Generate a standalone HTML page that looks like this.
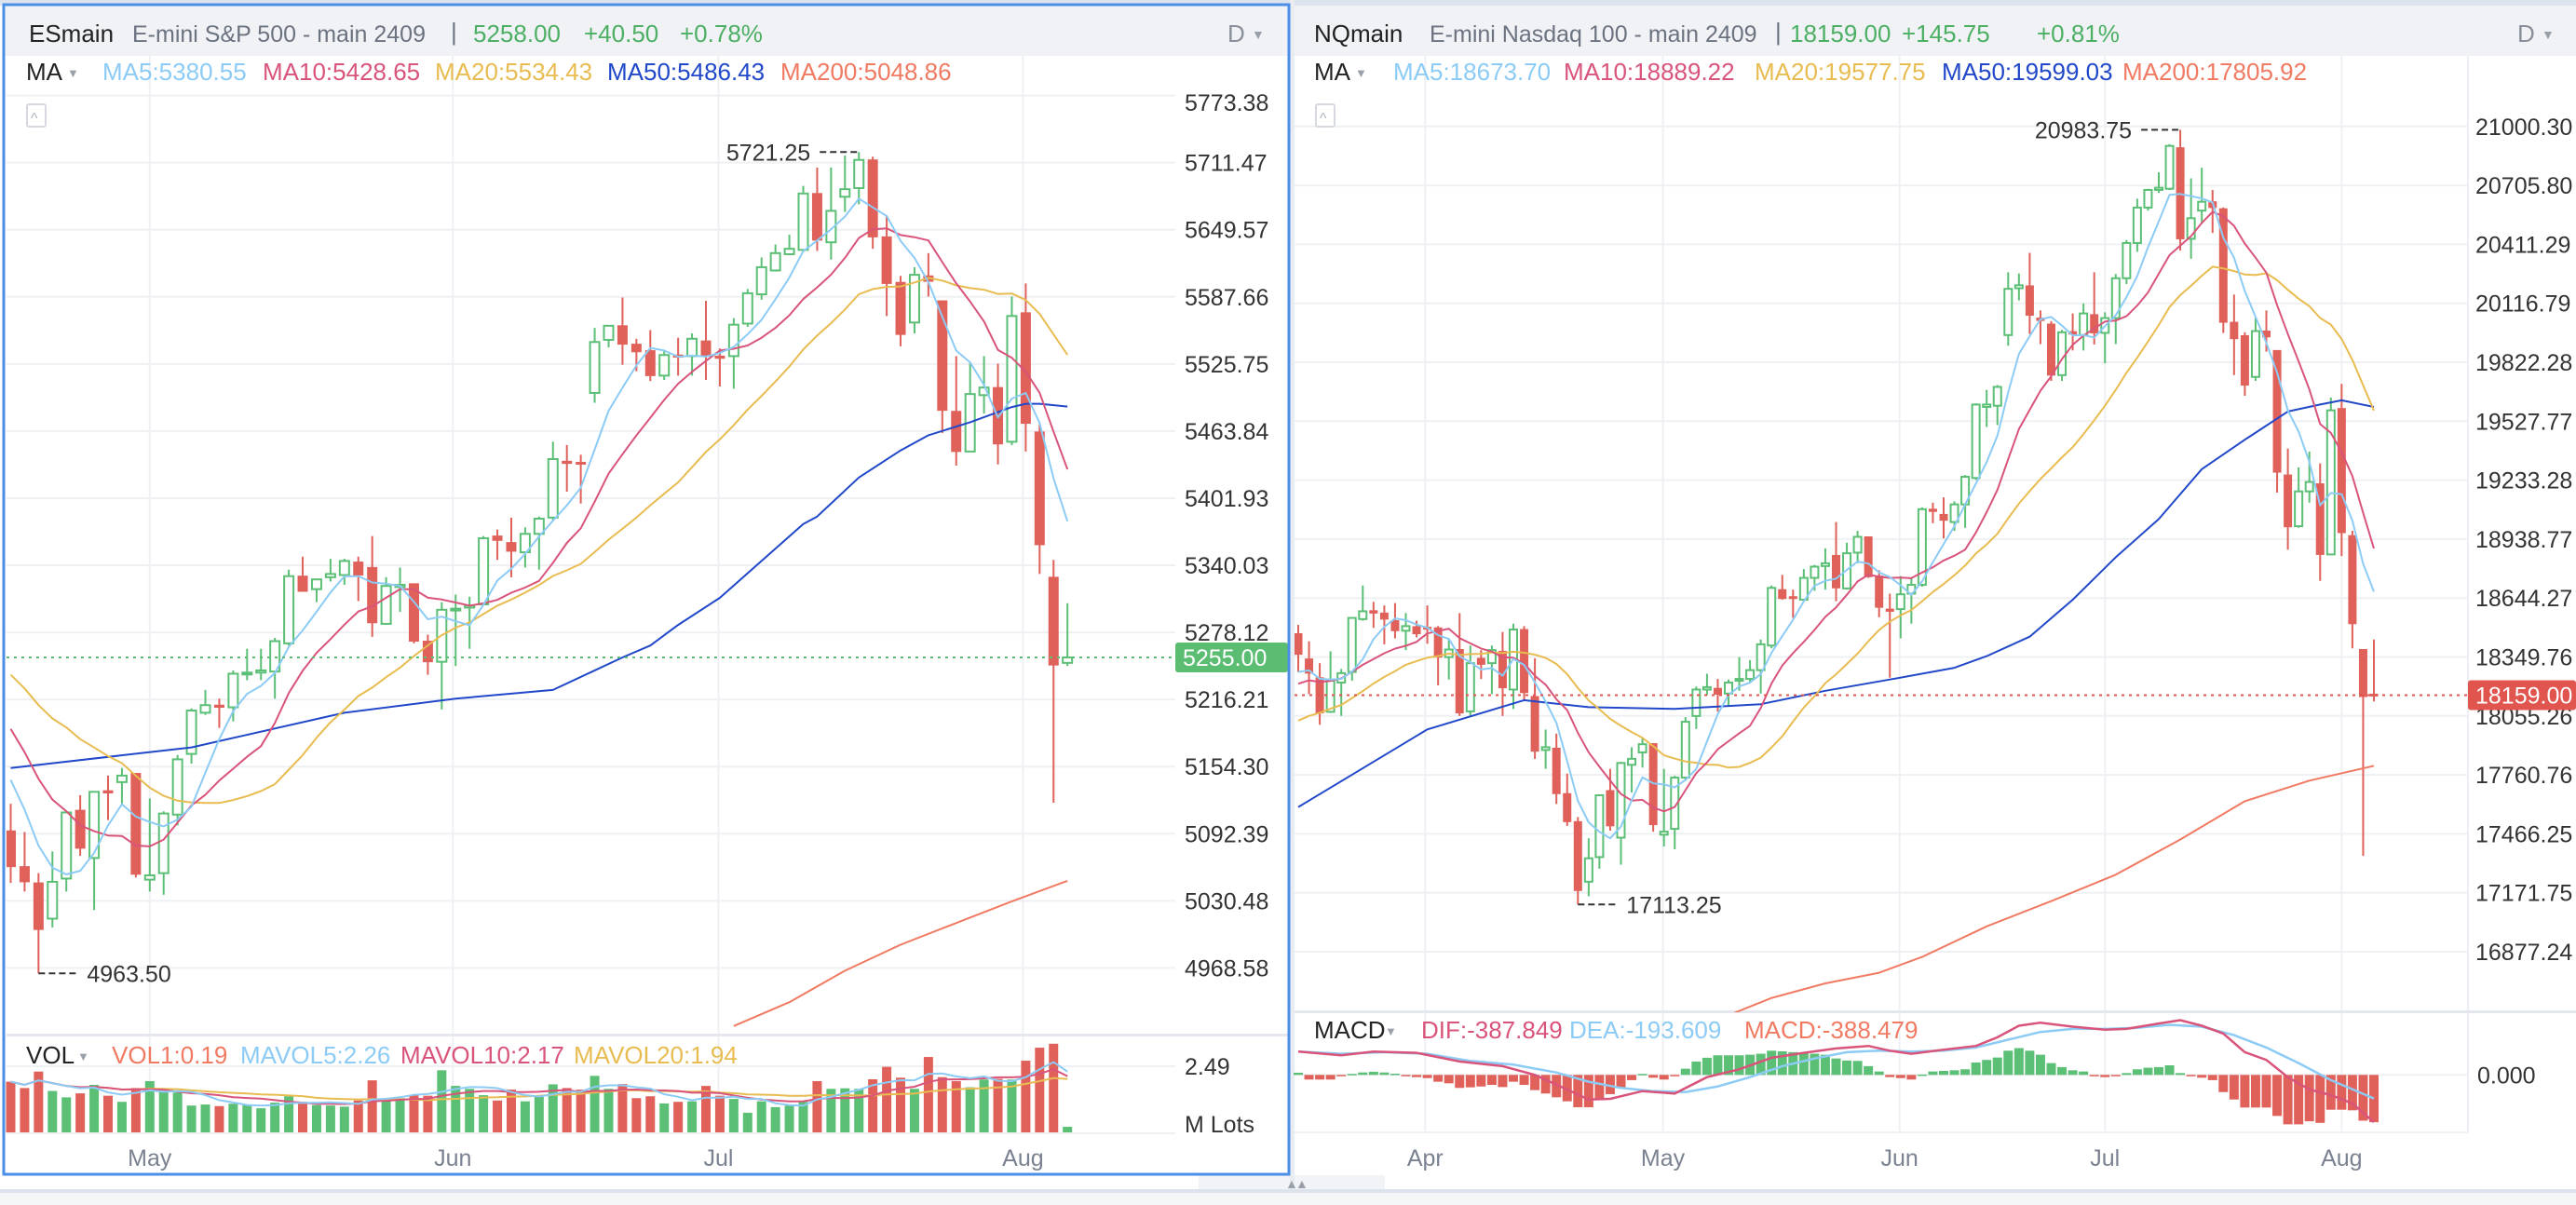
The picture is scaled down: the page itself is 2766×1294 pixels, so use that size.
<!DOCTYPE html>
<html><head><meta charset="utf-8"><title>ES / NQ charts</title>
<style>
html,body{margin:0;padding:0;background:#fff;}
svg{display:block;font-family:"Liberation Sans",sans-serif;}
</style></head>
<body>
<svg id="chart" width="2766" height="1294" viewBox="0 0 2766 1294" xmlns="http://www.w3.org/2000/svg">
  <rect x="0" y="0" width="2766" height="1294" fill="#ffffff"/>
  <rect x="0" y="0" width="2766" height="6" fill="#dde4ee"/>
  <rect x="6" y="6" width="1378" height="54" fill="#f0f2f5"/>
  <rect x="1390" y="6" width="1376" height="54" fill="#f0f2f5"/>
  <rect x="1385" y="0" width="5" height="1294" fill="#e9ecf0"/>
  <rect x="0" y="1277" width="2766" height="4" fill="#dce3ec"/>
  <rect x="0" y="1281" width="2766" height="13" fill="#f5f6f8"/>
  <rect x="1287" y="1262" width="98" height="15" fill="#f2f3f6"/>
  <rect x="1390" y="1262" width="97" height="15" fill="#f2f3f6"/>
  <text x="1380" y="1276" font-size="14" fill="#9aa0aa">▲</text>
  <text x="1391" y="1276" font-size="14" fill="#9aa0aa">▲</text>

  <g font-size="26">
    <text x="31" y="45" fill="#222">ESmain</text>
    <text x="142" y="45" font-size="25" fill="#6c7380">E-mini S&amp;P 500 - main 2409</text>
    <text x="484" y="43" fill="#6c7380">|</text>
    <text x="508" y="45" fill="#4caf64">5258.00</text>
    <text x="627" y="45" fill="#4caf64">+40.50</text>
    <text x="730" y="45" fill="#4caf64">+0.78%</text>
    <text x="1318" y="45" fill="#8a909a">D</text>
    <text x="1344" y="42" font-size="14" fill="#9aa0aa">▼</text>
  </g>
  <g font-size="26">
    <text x="1411" y="45" fill="#222">NQmain</text>
    <text x="1535" y="45" font-size="25" fill="#6c7380">E-mini Nasdaq 100 - main 2409</text>
    <text x="1906" y="43" fill="#6c7380">|</text>
    <text x="1922" y="45" fill="#4caf64">18159.00</text>
    <text x="2042" y="45" fill="#4caf64">+145.75</text>
    <text x="2187" y="45" fill="#4caf64">+0.81%</text>
    <text x="2703" y="45" fill="#8a909a">D</text>
    <text x="2729" y="42" font-size="14" fill="#9aa0aa">▼</text>
  </g>

  <g id="grid"></g>
  <g id="marks"></g>

  <g font-size="26">
    <text x="28" y="86" fill="#222">MA</text>
    <text x="72" y="83" font-size="13" fill="#9aa0aa">▼</text>
    <text x="110" y="86" fill="#8ccbf5">MA5:5380.55</text>
    <text x="282" y="86" fill="#d9547a">MA10:5428.65</text>
    <text x="467" y="86" fill="#e8bc50">MA20:5534.43</text>
    <text x="652" y="86" fill="#2148c9">MA50:5486.43</text>
    <text x="838" y="86" fill="#f07a62">MA200:5048.86</text>
  </g>
  <g font-size="26">
    <text x="1411" y="86" fill="#222">MA</text>
    <text x="1455" y="83" font-size="13" fill="#9aa0aa">▼</text>
    <text x="1496" y="86" fill="#8ccbf5">MA5:18673.70</text>
    <text x="1679" y="86" fill="#d9547a">MA10:18889.22</text>
    <text x="1884" y="86" fill="#e8bc50">MA20:19577.75</text>
    <text x="2085" y="86" fill="#2148c9">MA50:19599.03</text>
    <text x="2279" y="86" fill="#f07a62">MA200:17805.92</text>
  </g>
  <g font-size="26">
    <text x="28" y="1142" fill="#222">VOL</text>
    <text x="83" y="1139" font-size="13" fill="#9aa0aa">▼</text>
    <text x="120" y="1142" fill="#f07a62">VOL1:0.19</text>
    <text x="258" y="1142" fill="#8ccbf5">MAVOL5:2.26</text>
    <text x="430" y="1142" fill="#d9547a">MAVOL10:2.17</text>
    <text x="616" y="1142" fill="#e8bc50">MAVOL20:1.94</text>
  </g>
  <g font-size="26">
    <text x="1411" y="1115" fill="#222">MACD</text>
    <text x="1487" y="1112" font-size="13" fill="#9aa0aa">▼</text>
    <text x="1526" y="1115" fill="#d9547a">DIF:-387.849</text>
    <text x="1685" y="1115" fill="#8ccbf5">DEA:-193.609</text>
    <text x="1873" y="1115" fill="#f07a62">MACD:-388.479</text>
  </g>
  <rect x="29" y="112" width="20" height="24" rx="2" fill="#fff" stroke="#d6dae0" stroke-width="2"/>
  <text x="33" y="132" font-size="16" fill="#b0b5bd">^</text>
  <rect x="1413" y="112" width="20" height="24" rx="2" fill="#fff" stroke="#d6dae0" stroke-width="2"/>
  <text x="1417" y="132" font-size="16" fill="#b0b5bd">^</text>

  <rect x="4" y="5" width="1380" height="1256" fill="none" stroke="#4a8ee6" stroke-width="3"/>
</svg>
<script>
const esOpen=[5095,5062,5047,5014,5051,5114,5070,5132,5140,5148,5050,5056,5110,5166,5204,5211,5209,5240,5241,5242,5268,5330,5318,5329,5331,5343,5338,5286,5320,5323,5270,5251,5299,5301,5304,5367,5361,5352,5369,5384,5436,5435,5499,5548,5561,5544,5538,5515,5534,5533,5547,5533,5533,5563,5590,5612,5627,5631,5683,5638,5680,5688,5714,5643,5601,5564,5607,5584,5482,5445,5497,5504,5454,5573,5463,5329,5250];
const esHigh=[5120,5094,5056,5076,5113,5128,5131,5146,5153,5148,5125,5113,5165,5208,5225,5217,5243,5263,5263,5273,5336,5348,5327,5346,5346,5348,5367,5329,5338,5323,5276,5306,5313,5311,5367,5373,5384,5375,5385,5454,5451,5442,5559,5561,5587,5549,5557,5538,5550,5554,5584,5540,5568,5595,5624,5636,5645,5690,5707,5707,5718,5721.25,5717,5662,5607,5615,5628,5584,5533,5527,5533,5526,5588,5600,5471,5345,5305];
const esLow=[5047,5039,4963.5,5006,5039,5072,5022,5105,5120,5052,5039,5036,5100,5157,5202,5190,5196,5234,5234,5217,5266,5316,5306,5325,5322,5307,5274,5286,5297,5268,5239,5207,5247,5263,5304,5345,5329,5338,5336,5381,5408,5397,5490,5541,5525,5519,5510,5511,5515,5515,5511,5505,5503,5560,5585,5611,5626,5630,5630,5622,5666,5673,5632,5570,5542,5554,5588,5462,5432,5445,5480,5433,5451,5445,5332,5121,5247];
const esClose=[5062,5048,5004,5048,5112,5079,5131,5130,5146,5055,5054,5111,5161,5206,5211,5209,5240,5241,5243,5270,5330,5316,5327,5332,5344,5331,5287,5321,5322,5270,5251,5299,5300,5303,5365,5363,5353,5369,5383,5438,5434,5434,5546,5561,5544,5537,5515,5534,5532,5549,5533,5531,5562,5591,5615,5628,5632,5683,5640,5667,5687,5714,5643,5600,5553,5608,5602,5483,5445,5498,5504,5452,5570,5471,5359,5248,5255];
const esPriorCloses=[5300,5312,5295,5275,5298,5283,5290,5276,5288,5273,5262,5250,5240,5218,5210,5185,5170,5150,5143];
const esVol=[1.91,1.67,2.29,1.56,1.32,1.47,1.79,1.38,1.15,1.67,1.93,1.52,1.50,1.01,1.05,0.99,1.08,1.03,0.91,1.12,1.36,1.15,1.03,1.01,0.97,1.20,1.96,1.20,1.29,1.42,1.38,2.34,1.75,1.64,1.40,1.20,1.61,1.17,1.38,1.81,1.67,1.61,2.13,1.64,1.82,1.29,1.36,1.09,1.15,1.17,1.75,1.38,1.26,0.74,1.17,0.95,1.01,1.15,1.93,1.64,1.66,1.64,2.00,2.47,2.06,1.64,2.84,2.08,1.93,1.70,1.99,2.02,1.99,2.70,3.19,3.34,0.21];
const esMa50Idx=[0,13,24,32,39,44,46,48,51,54,57,58,61,64,66,69,72,73,74,76];
const esMa50=[5153,5172,5204,5217,5225,5255,5266,5285,5310,5344,5378,5385,5421,5446,5460,5472,5486,5489,5489,5486.43];
const esMa200Idx=[52,56,60,64,68,72,76];
const esMa200=[4915,4937,4966,4990,5010,5030,5048.86];
const esTicks=[5773.38,5711.47,5649.57,5587.66,5525.75,5463.84,5401.93,5340.03,5278.12,5216.21,5154.30,5092.39,5030.48,4968.58];
const esMonths=["May","Jun","Jul","Aug"];
const esMonthIdx=[10,31.8,50.9,72.8];
const esLast=5255.00;
const esVolTick=2.49;

const nqOpen=[18466,18340,18246,18076,18222,18275,18539,18581,18569,18531,18481,18501,18498,18495,18349,18387,18078,18343,18319,18378,18187,18487,18152,17885,17894,17667,17527,17227,17350,17682,17447,17811,17873,17917,17462,17491,17747,18055,18187,18193,18167,18231,18240,18284,18407,18686,18651,18636,18745,18804,18857,18692,18871,18950,18754,18589,18589,18666,18710,19088,19062,19024,19112,19244,19599,19605,19958,20192,20204,20043,20013,19758,19975,19958,20060,19969,20043,20242,20418,20595,20683,20689,20894,20439,20580,20624,20589,20022,19955,19749,19978,19881,19259,19003,19177,19215,18862,19591,18956,18387,18164];
const nqHigh=[18510,18428,18319,18378,18290,18545,18707,18625,18607,18619,18569,18531,18607,18504,18443,18569,18407,18384,18407,18475,18516,18504,18343,17987,17967,17767,17550,17444,17659,17791,17826,17899,17946,17917,17791,17756,18049,18202,18266,18240,18237,18349,18334,18437,18707,18760,18686,18789,18810,18892,19024,18921,18980,18950,18783,18666,18754,18745,19097,19121,19147,19127,19259,19617,19684,19708,20272,20266,20369,20081,20028,19984,20066,20116,20272,20072,20263,20433,20639,20689,20771,20912,20983.75,20741,20794,20683,20595,20160,19972,20043,20081,19881,19391,19297,19376,19317,19646,19714,18980,18387,18437];
const nqLow=[18275,18164,18011,18070,18055,18231,18531,18495,18413,18443,18384,18448,18416,18208,18237,18055,18055,18240,18164,18055,18090,18134,17841,17791,17615,17506,17113.25,17154,17292,17482,17312,17673,17797,17477,17403,17389,17732,17990,18158,18076,18108,18181,18222,18167,18393,18636,18545,18628,18680,18686,18628,18686,18818,18745,18548,18246,18443,18516,18701,19018,18942,18980,18995,19235,19499,19508,19905,20131,19963,19913,19729,19729,19881,19881,19911,19817,19913,20213,20374,20580,20668,20683,20380,20339,20515,20468,19969,19758,19655,19729,19875,19171,18886,18995,19121,18730,18862,18854,18393,17356,18128];
const nqClose=[18363,18269,18070,18231,18269,18545,18578,18569,18539,18481,18504,18466,18492,18349,18387,18070,18319,18313,18384,18196,18487,18172,17879,17899,17667,17527,17183,17344,17659,17506,17820,17841,17914,17512,17477,17747,18026,18187,18199,18164,18222,18240,18284,18413,18695,18642,18645,18745,18801,18818,18695,18868,18950,18751,18598,18578,18663,18710,19088,19077,19033,19112,19250,19611,19611,19699,20189,20207,20057,20031,19758,19972,19963,20066,19969,20043,20242,20418,20595,20683,20694,20903,20439,20542,20624,20595,20022,19940,19708,19978,19949,19273,19000,19177,19224,18862,19582,18971,18516,18152,18159];
const nqPriorCloses=[17800,17760,17820,17900,17850,17880,17830,17870,17900,17870,18100,18150,18180,18140,18215,18230,18280,18250,18252];
const nqMa50Idx=[0,12,21,27,35,43,49,55,61,64,68,72,76,80,84,88,92,95,97,100];
const nqMa50=[17600,17988,18134,18099,18090,18114,18181,18237,18296,18354,18451,18636,18848,19039,19288,19435,19576,19611,19632,19599.03];
const nqMa200Idx=[40,44,49,54,58,64,70,76,82,88,94,100];
const nqMa200=[16560,16646,16719,16772,16851,17004,17130,17262,17438,17629,17732,17805.92];
const nqMacdHist=[18,-38,-38,-38,-10,8,20,26,20,10,-5,-18,-26,-56,-69,-107,-102,-95,-82,-100,-56,-82,-125,-153,-184,-217,-266,-266,-204,-158,-107,-43,8,-23,-38,-10,51,110,141,161,161,161,166,174,199,194,187,181,174,166,135,118,115,72,28,-18,-26,-38,3,28,33,38,46,102,123,143,199,220,199,166,97,64,38,28,-5,-18,-10,15,46,59,64,79,15,-10,-23,-43,-141,-202,-268,-268,-268,-337,-406,-406,-381,-394,-286,-286,-291,-376,-388.479];
const nqDifIdx=[0,4,7,11,15,19,22,25,27,29,32,35,38,41,44,47,50,53,55,57,60,63,65,67,69,72,75,77,80,82,84,86,88,90,92,94,96,98,100];
const nqDif=[192,161,192,181,110,72,0,-120,-202,-197,-133,-153,-18,46,141,181,217,238,199,174,207,238,309,404,429,396,371,378,422,450,404,340,187,123,-18,-120,-166,-235,-387.849];
const nqDeaIdx=[0,4,8,12,16,20,24,27,30,33,36,39,42,45,48,51,54,57,60,63,66,69,72,75,78,81,84,87,90,93,96,100];
const nqDea=[192,174,187,174,115,84,20,-56,-107,-133,-141,-95,-18,72,135,187,199,192,199,225,289,353,378,378,386,412,396,327,225,97,-43,-193.609];
const nqTicks=["21000.30","20705.80","20411.29","20116.79","19822.28","19527.77","19233.28","18938.77","18644.27","18349.76","18055.26","17760.76","17466.25","17171.75","16877.24"];
const nqMonths=["Apr","May","Jun","Jul","Aug"];
const nqMonthIdx=[11.8,33.9,55.9,75,97];
const nqLast=18159.00;

const NS='http://www.w3.org/2000/svg';
const gridG=document.getElementById('grid');
const marksG=document.getElementById('marks');
function el(tag,a,p){const e=document.createElementNS(NS,tag);for(const k in a)e.setAttribute(k,a[k]);(p||marksG).appendChild(e);return e;}
const GREEN='#5bbf76', RED='#e0605a';

function movAvg(prior, close, n){
  const full=prior.concat(close), out=[];
  for(let i=0;i<close.length;i++){
    const end=i+prior.length; const start=Math.max(0,end-n+1);
    let s=0; for(let k=start;k<=end;k++) s+=full[k];
    out.push(s/(end-start+1));
  }
  return out;
}
function simpleAvg(arr,n){
  return arr.map((v,i)=>{const s=Math.max(0,i-n+1);let t=0;for(let k=s;k<=i;k++)t+=arr[k];return t/(i-s+1);});
}
function polyPts(idx, vals, xf, yf){return idx.map((d,k)=>xf(d).toFixed(1)+','+yf(vals[k]).toFixed(1)).join(' ');}

function drawPanel(cfg){
  const {key,open,high,low,close,prior,xf,yf,xL,xR,yT,yB,bw,ticks,tickVals,months,monthIdx,axisX,clipId,ma50Idx,ma50,ma200Idx,ma200} = cfg;
  const defs=el('defs',{},gridG);
  const cp=el('clipPath',{id:clipId},defs);
  el('rect',{x:xL,y:yT,width:xR-xL,height:yB-yT},cp);
  ticks.forEach((t,k)=>{
    const y=yf(tickVals[k]);
    const g=el('line',{x1:xL,x2:xR,y1:y,y2:y,stroke:'#eef0f4','stroke-width':2},gridG);
    
    
    const tx=el('text',{x:axisX,y:Math.max(y,110)+9,'font-size':25,fill:'#333'},gridG);
    tx.textContent=t;
    
    
  });
  months.forEach((m,k)=>{
    const x=xf(monthIdx[k]);
    const g=el('line',{x1:x,x2:x,y1:60,y2:cfg.paneBottom,stroke:'#eef0f4','stroke-width':2},gridG);
    
    
    const tx=el('text',{x:x,y:1252,'font-size':25,fill:'#7a8190','text-anchor':'middle'},gridG);
    tx.textContent=m;
    
    
  });
  const plot=el('g',{'clip-path':'url(#'+clipId+')'});
  
  
  const ma5=movAvg(prior,close,5), ma10=movAvg(prior,close,10), ma20=movAvg(prior,close,20);
  const idxAll=close.map((_,i)=>i);
  const lines=[[ma200Idx,ma200,'#f07a62','ma200-line'],[ma50Idx,ma50,'#2148c9','ma50-line'],[idxAll,ma20,'#e8bc50','ma20-line'],[idxAll,ma10,'#d9547a','ma10-line'],[idxAll,ma5,'#8ccbf5','ma5-line']];
  for(let i=0;i<close.length;i++){
    const x=xf(i), up=close[i]>=open[i], col=up?GREEN:RED;
    const yo=yf(open[i]), yc=yf(close[i]), yh=yf(high[i]), yl=yf(low[i]);
    const top=Math.min(yo,yc), bot=Math.max(yo,yc), h=Math.max(bot-top,2);
    const w=el('line',{x1:x,x2:x,y1:yh,y2:yl,stroke:col,'stroke-width':2},plot);
    
    
    const b=el('rect',{x:x-bw/2,y:top,width:bw,height:h,fill:up?'#ffffff':col,stroke:col,'stroke-width':up?2:1},plot);
    
    
  }
  lines.forEach(([ix,vals,c,nm])=>{
    const pl=el('polyline',{points:polyPts(ix,vals,xf,yf),fill:'none',stroke:c,'stroke-width':2,'stroke-linejoin':'round'},plot);
    
    
  });
  const yLast=yf(cfg.last);
  const dl=el('line',{x1:xL,x2:xR,y1:yLast,y2:yLast,stroke:cfg.lastColor,'stroke-width':2,'stroke-dasharray':'3,5'});
  
  
  const bg=el('rect',{x:xR,y:yLast-16,width:cfg.badgeW,height:32,rx:3,fill:cfg.lastColor});
  
  
  const bt=el('text',{x:xR+8,y:yLast+9,'font-size':25,fill:'#fff'});
  bt.textContent=cfg.last.toFixed(2);
  
  
  let hi=0,lo=0;
  for(let i=0;i<high.length;i++){if(high[i]>high[hi])hi=i;if(low[i]<low[lo])lo=i;}
  const hx=xf(hi), hy=yf(high[hi]);
  const hd=el('line',{x1:hx-42,x2:hx,y1:hy,y2:hy,stroke:'#333','stroke-width':2,'stroke-dasharray':'7,4'});
  
  
  const ht=el('text',{x:hx-52,y:hy+9,'font-size':25,fill:'#333','text-anchor':'end'});
  ht.textContent=high[hi].toFixed(2);
  
  
  const lx=xf(lo), ly=yf(low[lo]);
  const ld=el('line',{x1:lx,x2:lx+42,y1:ly,y2:ly,stroke:'#333','stroke-width':2,'stroke-dasharray':'7,4'});
  
  
  const lt=el('text',{x:lx+52,y:ly+9,'font-size':25,fill:'#333'});
  lt.textContent=low[lo].toFixed(2);
  
  
}

const esX=i=>11.5+14.93*i;
const esY=p=>706+(5255-p)*1.164;
drawPanel({key:'es',open:esOpen,high:esHigh,low:esLow,close:esClose,prior:esPriorCloses,xf:esX,yf:esY,xL:7,xR:1262,yT:103,yB:1112,bw:10,
  ticks:esTicks.map(v=>v.toFixed(2)),tickVals:esTicks,months:esMonths,monthIdx:esMonthIdx,axisX:1272,clipId:'esClip',
  ma50Idx:esMa50Idx,ma50:esMa50,ma200Idx:esMa200Idx,ma200:esMa200,last:esLast,lastColor:'#5bbd72',badgeW:121,paneBottom:1216});

(function(){
  const vy=v=>1216-v*28.5;
  const sep=el('rect',{x:7,y:1110,width:1376,height:3,fill:'#e4e8ee'},gridG);
  
  
  const gl=el('line',{x1:7,x2:1262,y1:vy(esVolTick),y2:vy(esVolTick),stroke:'#eef0f4','stroke-width':2},gridG);
  
  
  const bl=el('line',{x1:7,x2:1262,y1:1217,y2:1217,stroke:'#eef0f4','stroke-width':2},gridG);
  
  
  const t1=el('text',{x:1272,y:vy(esVolTick)+9,'font-size':25,fill:'#333'},gridG);
  t1.textContent=esVolTick.toFixed(2);
  
  
  const t2=el('text',{x:1272,y:1216,'font-size':25,fill:'#333'},gridG);
  t2.textContent='M Lots';
  
  
  esVol.forEach((v,i)=>{
    const up=esClose[i]>=esOpen[i];
    const r=el('rect',{x:esX(i)-5,y:vy(v),width:10,height:1216-vy(v),fill:up?GREEN:RED});
    
    
  });
  const idx=esVol.map((_,i)=>i);
  [[simpleAvg(esVol,20),'#e8bc50','es-mavol20-line'],[simpleAvg(esVol,10),'#d9547a','es-mavol10-line'],[simpleAvg(esVol,5),'#8ccbf5','es-mavol5-line']].forEach(([vals,c,nm])=>{
    const pl=el('polyline',{points:polyPts(idx,vals,esX,vy),fill:'none',stroke:c,'stroke-width':2});
    
    
  });
})();

const nqX=j=>1394+11.55*j;
const nqY=p=>746.5+(18159-p)*0.21494;
const axisLine=el('line',{x1:2650,x2:2650,y1:60,y2:1216,stroke:'#eceff3','stroke-width':2},gridG);


drawPanel({key:'nq',open:nqOpen,high:nqHigh,low:nqLow,close:nqClose,prior:nqPriorCloses,xf:nqX,yf:nqY,xL:1390,xR:2650,yT:103,yB:1087,bw:8,
  ticks:nqTicks,tickVals:nqTicks.map(Number),months:nqMonths,monthIdx:nqMonthIdx,axisX:2658,clipId:'nqClip',
  ma50Idx:nqMa50Idx,ma50:nqMa50,ma200Idx:nqMa200Idx,ma200:nqMa200,last:nqLast,lastColor:'#e0564f',badgeW:116,paneBottom:1216});

(function(){
  const my=v=>1154.3-v*0.1307;
  const sep=el('rect',{x:1390,y:1085,width:1376,height:3,fill:'#e4e8ee'},gridG);
  
  
  const bl=el('line',{x1:1390,x2:2650,y1:1216,y2:1216,stroke:'#eef0f4','stroke-width':2},gridG);
  
  
  const zl=el('line',{x1:1390,x2:2650,y1:my(0),y2:my(0),stroke:'#eef0f4','stroke-width':2},gridG);
  
  
  const zt=el('text',{x:2660,y:my(0)+9,'font-size':25,fill:'#333'},gridG);
  zt.textContent='0.000';
  
  
  nqMacdHist.forEach((v,j)=>{
    const y0=my(0), y1=my(v);
    const r=el('rect',{x:nqX(j)-5,y:Math.min(y0,y1),width:10,height:Math.max(Math.abs(y1-y0),1.5),fill:v>=0?GREEN:RED});
    
    
  });
  const dea=el('polyline',{points:polyPts(nqDeaIdx,nqDea,nqX,my),fill:'none',stroke:'#8ccbf5','stroke-width':2.5});
  
  
  const dif=el('polyline',{points:polyPts(nqDifIdx,nqDif,nqX,my),fill:'none',stroke:'#d9547a','stroke-width':2.5});
  
  
})();
</script>
</body></html>
